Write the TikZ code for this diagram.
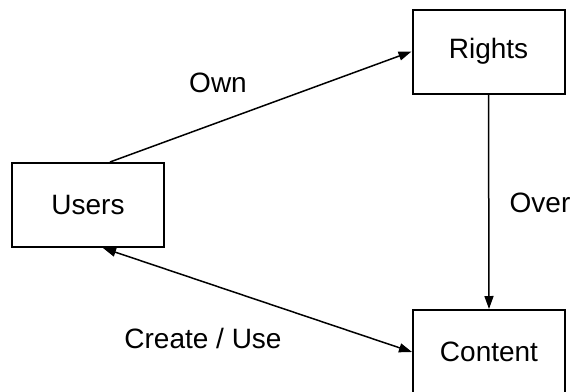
\documentclass[tikz,border=0pt]{standalone}
\usepackage{fontspec}
\setmainfont{Liberation Sans}
\usepackage{tikz}
\usetikzlibrary{arrows.meta}
\tikzset{
  box/.style={draw,line width=2pt,minimum width=152pt,minimum height=84pt,inner sep=0pt,fill=white},
  arr/.style={-{Triangle[length=13pt,width=9pt]},line width=1.5pt},
  lbl/.style={font=\fontsize{28}{32}\selectfont},
}
\begin{document}
\begin{tikzpicture}[x=1pt,y=-1pt,every node/.style={font=\fontsize{28}{32}\selectfont}]
 \useasboundingbox (0,0) rectangle (575,391);
 % the three boxes
 \node[box] (users) at (88,205){Users};
 \node[box] (rights) at (488.5,51.5){Rights};
 \node[box] (content) at (489,352){Content};
 % connectors
 \draw[arr] ([xshift=22pt]users.north) -- (rights.west);
 \draw[arr] (rights.south) -- (content.north);
 \draw[arr,{Triangle[length=13pt,width=9pt]}-{Triangle[length=13pt,width=9pt]}] ([xshift=15pt]users.south) -- (content.west);
 % labels
 \node[lbl] (own) at (218,83){Own};
 \node[lbl] (over) at (540,203){Over};
 \node[lbl] (createuse) at (203,338){Create / Use};
\end{tikzpicture}
\end{document}
